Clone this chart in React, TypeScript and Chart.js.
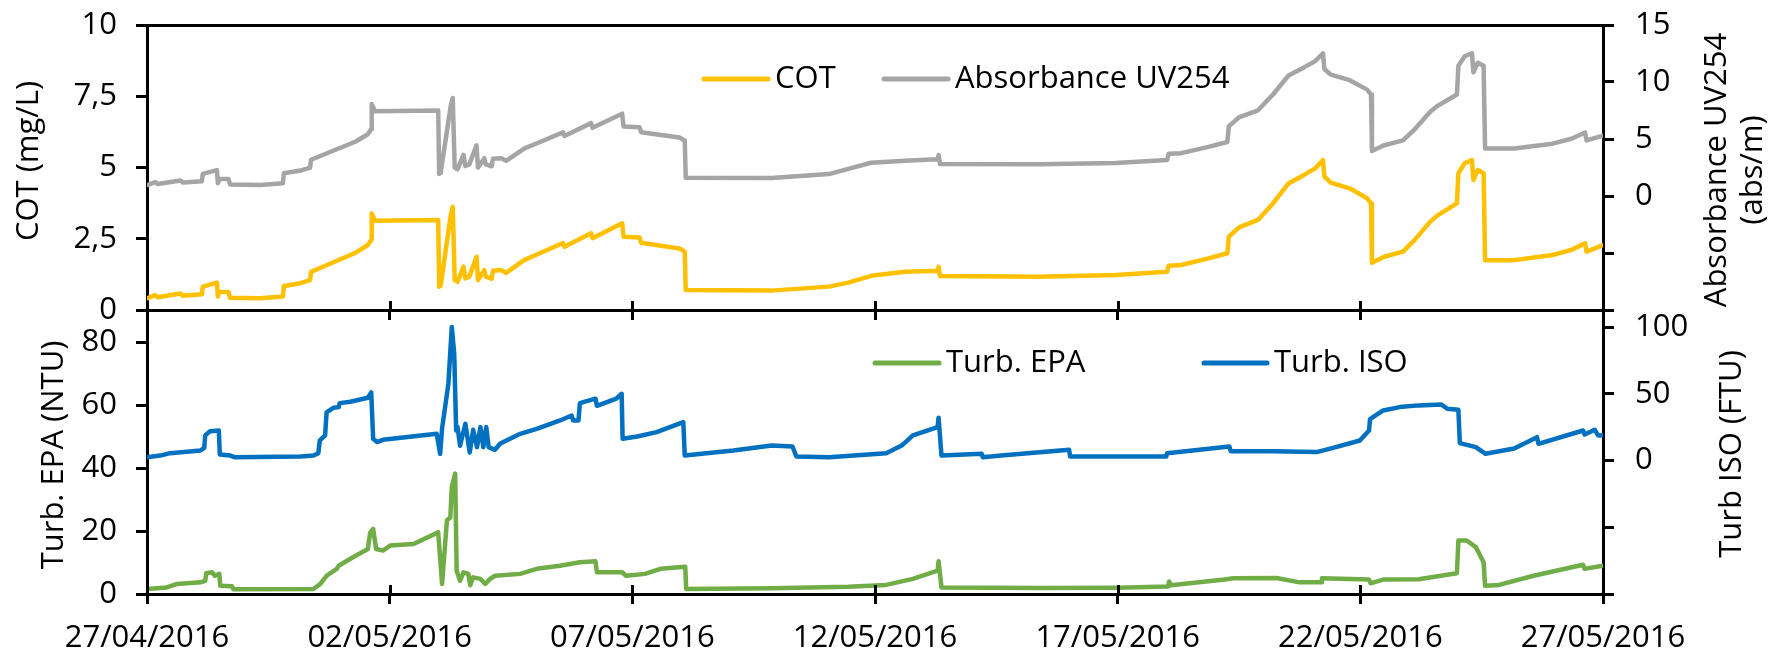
import React, { useEffect, useRef } from 'react';
import { Chart, registerables } from 'chart.js';

Chart.register(...registerables);

// ---------------- data ----------------
// x values are days since 27/04/2016
const dateLabels = ['27/04/2016', '02/05/2016', '07/05/2016', '12/05/2016', '17/05/2016', '22/05/2016', '27/05/2016'];
const dateTicks = [0, 5, 10, 15, 20, 25, 30];
const cotTicks = [0, 2.5, 5, 7.5, 10];
const absTicks = [-10, -5, 0, 5, 10, 15];
const epaTicks = [0, 20, 40, 60, 80];
const isoTicks = [-100, -50, 0, 50, 100];

const cotDays = [
  0.00, 0.17, 0.22, 0.69, 0.74, 1.13, 1.15, 1.44, 1.46, 1.49, 1.68, 1.71, 2.33, 2.80, 2.82, 3.16,
  3.36, 3.38, 3.71, 4.19, 4.31, 4.55, 4.62, 4.63, 4.70, 6.00, 6.02, 6.05, 6.26, 6.30, 6.34, 6.40,
  6.52, 6.56, 6.64, 6.79, 6.82, 6.95, 6.98, 7.10, 7.13, 7.30, 7.40, 7.77, 8.01, 8.57, 8.60, 9.15,
  9.18, 9.79, 9.82, 10.15, 10.18, 10.97, 11.08, 11.10, 12.87, 14.05, 14.45, 14.92, 15.62, 16.29,
  16.31, 16.34, 18.38, 19.96, 21.02, 21.05, 21.31, 21.87, 22.26, 22.29, 22.50, 22.89, 23.20, 23.52,
  23.84, 24.07, 24.23, 24.26, 24.39, 24.78, 25.14, 25.22, 25.24, 25.49, 25.88, 26.12, 26.44, 26.60,
  26.99, 27.02, 27.15, 27.30, 27.33, 27.42, 27.54, 27.57, 28.17, 28.96, 29.35, 29.63, 29.66, 30.00,
];
const cotValues = [
  0.41, 0.52, 0.45, 0.58, 0.50, 0.55, 0.82, 0.96, 0.47, 0.63, 0.63, 0.43, 0.41, 0.47, 0.84, 0.94,
  1.05, 1.34, 1.58, 1.93, 2.02, 2.28, 2.46, 3.39, 3.13, 3.16, 0.82, 0.85, 3.35, 3.62, 1.05, 0.99,
  1.52, 1.11, 1.17, 1.87, 1.05, 1.40, 1.17, 1.10, 1.38, 1.40, 1.30, 1.75, 1.93, 2.35, 2.22, 2.69,
  2.52, 3.04, 2.57, 2.54, 2.36, 2.16, 2.05, 0.70, 0.68, 0.82, 0.96, 1.20, 1.34, 1.38,
  1.52, 1.19, 1.17, 1.23, 1.34, 1.55, 1.58, 1.81, 1.99, 2.57, 2.90, 3.16, 3.74, 4.44,
  4.74, 4.97, 5.26, 4.68, 4.47, 4.27, 3.92, 3.74, 1.66, 1.87, 2.05, 2.46, 3.10, 3.33,
  3.74, 4.80, 5.15, 5.26, 4.56, 4.91, 4.80, 1.75, 1.75, 1.93, 2.11, 2.34, 2.05, 2.28,
];
const absValues = [
  0.96, 1.22, 1.06, 1.36, 1.18, 1.30, 1.94, 2.27, 1.11, 1.49, 1.49, 1.01, 0.96, 1.11, 1.99, 2.23,
  2.49, 3.18, 3.75, 4.58, 4.80, 5.42, 5.85, 8.06, 7.44, 7.51, 1.94, 2.01, 7.96, 8.60, 2.49, 2.35,
  3.61, 2.63, 2.77, 4.44, 2.49, 3.32, 2.77, 2.61, 3.27, 3.32, 3.08, 4.15, 4.58, 5.58, 5.27, 6.39,
  5.98, 7.22, 6.10, 6.03, 5.60, 5.13, 4.87, 1.60, 1.58, 1.92, 2.38, 2.92, 3.10, 3.22,
  3.60, 2.80, 2.78, 2.90, 3.15, 3.70, 3.76, 4.31, 4.74, 6.12, 6.90, 7.52, 8.90, 10.57,
  11.28, 11.83, 12.52, 11.14, 10.64, 10.16, 9.33, 8.90, 3.95, 4.45, 4.88, 5.85, 7.38, 7.93,
  8.90, 11.42, 12.26, 12.52, 10.85, 11.69, 11.42, 4.17, 4.17, 4.59, 5.02, 5.57, 4.88, 5.30,
];

const isoDays = [
  0.00, 0.27, 0.48, 1.10, 1.18, 1.20, 1.30, 1.48, 1.50, 1.72, 1.80, 3.16, 3.43, 3.53, 3.56, 3.67,
  3.70, 3.84, 3.95, 3.97, 4.19, 4.55, 4.62, 4.66, 4.74, 4.86, 5.97, 6.04, 6.08, 6.21, 6.28, 6.33,
  6.37, 6.40, 6.45, 6.56, 6.65, 6.72, 6.80, 6.87, 6.93, 6.99, 7.04, 7.17, 7.28, 7.69, 8.03, 8.51,
  8.75, 8.78, 8.89, 8.92, 9.24, 9.27, 9.67, 9.78, 9.80, 10.10, 10.50, 11.05, 11.08, 12.08, 12.87,
  13.30, 13.38, 14.05, 15.23, 15.55, 15.78, 16.29, 16.31, 16.37, 17.20, 17.22, 17.60, 19.00, 19.02,
  21.00, 21.02, 22.30, 22.33, 23.20, 24.10, 24.44, 24.99, 25.18, 25.20, 25.47, 25.81, 26.20, 26.67,
  26.79, 27.02, 27.05, 27.38, 27.58, 28.17, 28.64, 28.67, 29.59, 29.62, 29.83, 29.90, 30.00,
];
const isoValues = [
  2.5, 3.7, 5.5, 7.5, 9.5, 18.8, 22.0, 22.5, 4.5, 3.7, 2.5, 3.0, 3.7, 5.5, 15.0, 18.8,
  36.0, 39.5, 40.0, 43.0, 44.0, 47.0, 51.0, 16.2, 13.8, 15.5, 20.0, 5.0, 24.0, 57.5, 100.0, 80.0,
  22.5, 25.0, 11.0, 27.5, 6.0, 23.0, 10.0, 25.0, 10.0, 25.0, 10.0, 8.0, 12.7, 20.0, 23.7, 30.0,
  33.7, 30.0, 30.0, 43.0, 46.3, 41.0, 46.3, 50.0, 16.3, 18.0, 21.3, 28.8, 3.7, 7.5, 11.2,
  10.5, 3.0, 2.5, 5.5, 11.2, 18.8, 25.0, 32.0, 3.7, 5.0, 2.5, 3.7, 8.0, 3.0,
  3.0, 5.5, 10.5, 7.0, 7.0, 6.3, 9.5, 15.0, 22.5, 31.0, 37.5, 40.0, 41.3, 42.0,
  38.8, 38.0, 13.0, 10.0, 5.0, 9.0, 17.5, 12.5, 22.5, 19.5, 23.0, 18.8, 19.0,
];

const epaDays = [
  0.00, 0.41, 0.62, 1.10, 1.20, 1.22, 1.34, 1.40, 1.49, 1.51, 1.75, 1.78, 3.43, 3.57, 3.70, 3.91,
  3.95, 4.19, 4.55, 4.60, 4.66, 4.72, 4.86, 5.01, 5.49, 6.00, 6.08, 6.18, 6.25, 6.28, 6.35, 6.38,
  6.45, 6.52, 6.62, 6.66, 6.72, 6.87, 6.97, 7.07, 7.17, 7.69, 8.03, 8.51, 8.92, 9.24, 9.27, 9.79,
  9.87, 10.26, 10.58, 11.09, 11.11, 12.87, 14.45, 15.23, 15.78, 16.29, 16.31, 16.37, 18.38, 19.98,
  21.04, 21.06, 21.10, 22.20, 22.38, 23.27, 23.75, 24.19, 24.21, 25.18, 25.21, 25.47, 26.20, 26.99,
  27.02, 27.19, 27.38, 27.54, 27.57, 27.86, 28.57, 29.59, 29.62, 30.00,
];
const epaValues = [
  1.6, 2.1, 3.2, 3.7, 4.2, 6.6, 6.9, 5.8, 6.4, 2.6, 2.5, 1.5, 1.6, 3.2, 5.8, 8.0,
  9.0, 11.2, 14.3, 19.6, 20.7, 14.3, 13.8, 15.4, 15.9, 19.6, 3.2, 23.4, 24.4, 34.0, 38.3, 7.4,
  4.2, 6.9, 6.4, 2.8, 5.3, 4.8, 3.2, 4.8, 5.8, 6.4, 8.0, 9.0, 10.1, 10.4, 6.9, 6.9,
  5.8, 6.4, 8.0, 8.7, 1.6, 1.8, 2.3, 2.9, 4.8, 7.4, 10.4, 2.1, 1.9, 2.0,
  2.4, 4.0, 2.8, 4.6, 5.0, 5.1, 3.7, 3.7, 5.0, 4.6, 3.4, 4.6, 4.7, 6.6,
  17.0, 17.0, 14.9, 10.1, 2.6, 2.9, 5.8, 9.3, 8.0, 9.0,
];

// ---------------- helpers ----------------
const FAMILY = '"Open Sans", sans-serif';
const FS = 31;
const TEXT_FONT = `${FS}px ${FAMILY}`;
const COL_COT = '#FFC000';
const COL_ABS = '#A5A5A5';
const COL_EPA = '#70AD47';
const COL_ISO = '#0070C0';

const pts = (xs: number[], ys: number[]) => xs.map((x, i) => ({ x, y: ys[i] }));
const fmt = (v: number) => (v < 0 ? '' : String(v).replace('.', ','));

function setTicks(values: number[]) {
  return (s: any) => {
    s.ticks = values.map((v) => ({ value: v }));
  };
}
function fixWidth(w: number) {
  return (s: any) => {
    s.width = w;
    s.paddingTop = 0;
    s.paddingBottom = 0;
    s.paddingLeft = 0;
    s.paddingRight = 0;
  };
}
function fixHeight(h: number) {
  return (s: any) => {
    s.height = h;
    s.paddingTop = 0;
    s.paddingBottom = 0;
    s.paddingLeft = 0;
    s.paddingRight = 0;
  };
}

function xScale(height: number, showLabels: boolean) {
  return {
    type: 'linear',
    position: 'bottom',
    min: dateTicks[0],
    max: dateTicks[dateTicks.length - 1],
    afterBuildTicks: setTicks(dateTicks),
    afterFit: fixHeight(height),
    ticks: {
      autoSkip: false,
      maxRotation: 0,
      padding: 16,
      color: '#000',
      font: { family: FAMILY, size: FS },
      callback: (_v: any, i: number) => (showLabels ? dateLabels[i] : ''),
    },
    grid: { drawOnChartArea: false, tickLength: 10, tickWidth: 3, tickColor: '#000' },
    border: { display: true, color: '#000', width: 3 },
  };
}

function yScale(position: string, min: number, max: number, ticks: number[], width: number, padding: number, topLine?: number) {
  return {
    type: 'linear',
    position,
    min,
    max,
    afterBuildTicks: setTicks(ticks),
    afterFit: fixWidth(width),
    ticks: {
      padding,
      color: '#000',
      font: { family: FAMILY, size: FS },
      callback: (v: number) => fmt(v),
    },
    grid: {
      drawOnChartArea: topLine !== undefined,
      color: (c: any) => (topLine !== undefined && c.tick && c.tick.value === topLine ? '#000' : 'rgba(0,0,0,0)'),
      lineWidth: 3,
      tickLength: 11,
      tickWidth: 3,
      tickColor: '#000',
    },
    border: { display: true, color: '#000', width: 3 },
  };
}

const innerTicks = {
  id: 'innerTicks',
  afterDraw(chart: any) {
    const s = chart.scales.x;
    const ctx = chart.ctx;
    ctx.save();
    ctx.strokeStyle = '#000';
    ctx.lineWidth = 3;
    s.ticks.forEach((t: any) => {
      const px = Math.round(s.getPixelForValue(t.value)) + 0.5;
      ctx.beginPath();
      ctx.moveTo(px, s.top);
      ctx.lineTo(px, s.top - 9);
      ctx.stroke();
    });
    ctx.restore();
  },
};

function vText(ctx: CanvasRenderingContext2D, text: string, x: number, y: number) {
  ctx.save();
  ctx.translate(x, y);
  ctx.rotate(-Math.PI / 2);
  ctx.textAlign = 'center';
  ctx.textBaseline = 'middle';
  ctx.fillStyle = '#000';
  ctx.font = TEXT_FONT;
  ctx.fillText(text, 0, 0);
  ctx.restore();
}

function legendItem(ctx: CanvasRenderingContext2D, x1: number, x2: number, y: number, color: string, text: string) {
  ctx.save();
  ctx.strokeStyle = color;
  ctx.lineWidth = 5;
  ctx.lineCap = 'round';
  ctx.beginPath();
  ctx.moveTo(x1, y);
  ctx.lineTo(x2, y);
  ctx.stroke();
  ctx.fillStyle = '#000';
  ctx.font = TEXT_FONT;
  ctx.textAlign = 'left';
  ctx.textBaseline = 'middle';
  ctx.fillText(text, x2 + 7, y);
  ctx.restore();
}

const topTexts = {
  id: 'topTexts',
  afterDraw(chart: any) {
    const ctx = chart.ctx;
    const ds = chart.data.datasets;
    vText(ctx, 'COT (mg/L)', 29, 161);
    vText(ctx, 'Absorbance UV254', 1717, 170);
    vText(ctx, '(abs/m)', 1753, 170);
    legendItem(ctx, 704, 768, 79, ds[0].borderColor, ds[0].label);
    legendItem(ctx, 884, 948, 79, ds[1].borderColor, ds[1].label);
  },
};

const bottomTexts = {
  id: 'bottomTexts',
  afterDraw(chart: any) {
    const ctx = chart.ctx;
    const ds = chart.data.datasets;
    vText(ctx, 'Turb. EPA (NTU)', 54, 155);
    vText(ctx, 'Turb ISO (FTU)', 1732, 154);
    legendItem(ctx, 875, 939, 63, ds[0].borderColor, ds[0].label);
    legendItem(ctx, 1204, 1267, 63, ds[1].borderColor, ds[1].label);
  },
};

const lineDs = (label: string, data: any[], axis: string, color: string) => ({
  label,
  data,
  yAxisID: axis,
  borderColor: color,
  backgroundColor: color,
  borderWidth: 4.5,
  pointRadius: 0,
  fill: false,
  tension: 0,
  borderJoinStyle: 'round',
  borderCapStyle: 'round',
});

const W = 1775;
const TOP_H = 330;
const BOT_TOP = 300;
const BOT_H = 355;

export default function App() {
  const topRef = useRef<HTMLCanvasElement>(null);
  const botRef = useRef<HTMLCanvasElement>(null);

  useEffect(() => {
    document.body.style.margin = '0';
    const common = {
      animation: false,
      responsive: false,
      devicePixelRatio: 1,
      plugins: { legend: { display: false }, tooltip: { enabled: false } },
    };
    const top = new Chart(topRef.current as HTMLCanvasElement, {
      type: 'line',
      data: {
        datasets: [
          lineDs('COT', pts(cotDays, cotValues), 'yCot', COL_COT),
          lineDs('Absorbance UV254', pts(cotDays, absValues), 'yAbs', COL_ABS),
        ],
      },
      options: {
        ...common,
        layout: { padding: { top: 25, left: 0, right: 0, bottom: 0 } },
        scales: {
          x: xScale(20, false),
          yCot: yScale('left', 0, 10, cotTicks, 147, 19, 10),
          yAbs: yScale('right', -10, 15, absTicks, W - 1603, 21),
        },
      },
      plugins: [innerTicks, topTexts],
    } as any);

    const bot = new Chart(botRef.current as HTMLCanvasElement, {
      type: 'line',
      data: {
        datasets: [
          lineDs('Turb. EPA', pts(epaDays, epaValues), 'yEpa', COL_EPA),
          lineDs('Turb. ISO', pts(isoDays, isoValues), 'yIso', COL_ISO),
        ],
      },
      options: {
        ...common,
        layout: { padding: { top: 11, left: 0, right: 0, bottom: 0 } },
        scales: {
          x: xScale(BOT_H - 11 - 283, true),
          yEpa: yScale('left', 0, 90, epaTicks, 147, 19),
          yIso: yScale('right', -100, 112, isoTicks, W - 1603, 21),
        },
      },
      plugins: [innerTicks, bottomTexts],
    } as any);

    return () => {
      top.destroy();
      bot.destroy();
    };
  }, []);

  return (
    <div style={{ position: 'relative', width: W, height: 655, background: '#fff' }}>
      <canvas ref={topRef} width={W} height={TOP_H} style={{ position: 'absolute', left: 0, top: 0 }} />
      <canvas ref={botRef} width={W} height={BOT_H} style={{ position: 'absolute', left: 0, top: BOT_TOP }} />
    </div>
  );
}
